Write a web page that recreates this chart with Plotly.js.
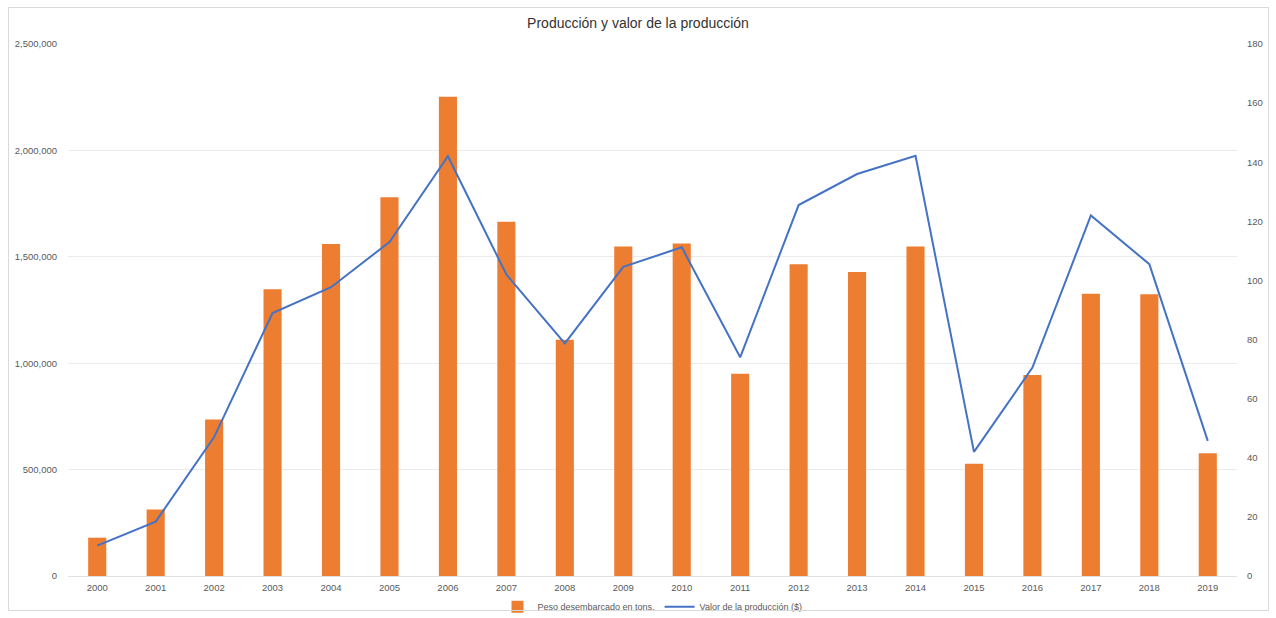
<!DOCTYPE html>
<html>
<head>
<meta charset="utf-8">
<script src="https://cdn.plot.ly/plotly-3.0.1.min.js"></script>
<style>
  html, body { margin: 0; padding: 0; background: #ffffff; }
  #wrap { position: relative; width: 1276px; height: 618px; }
  #chart { width: 1276px; height: 618px; }
  #frame { position: absolute; left: 8px; top: 7px; width: 1261px; height: 604px;
           border: 1px solid #d9d9d9; pointer-events: none; box-sizing: border-box; }
</style>
</head>
<body>
<div id="wrap">
  <div id="chart"></div>
  <div id="frame"></div>
</div>
<script>
const years = ['2000','2001','2002','2003','2004','2005','2006','2007','2008','2009',
               '2010','2011','2012','2013','2014','2015','2016','2017','2018','2019'];
const pesoTons = [180000, 312000, 735000, 1347000, 1560000, 1780000, 2252000, 1665000, 1110000, 1548000,
                  1562000, 950000, 1465000, 1428000, 1548000, 527000, 944000, 1326000, 1324000, 577000];
const valorProduccion = [10.3, 18.4, 47, 89, 97.7, 113, 142, 102, 78.7, 104.6,
                         111.2, 74, 125.5, 136, 142.2, 42, 70.5, 122, 105.5, 45.7];
const leftTicks = [0, 500000, 1000000, 1500000, 2000000, 2500000];
const rightTicks = [0, 20, 40, 60, 80, 100, 120, 140, 160, 180];

const font = 'Liberation Sans, Arial, sans-serif';
const tickFont = { family: font, size: 9.5, color: '#595959' };

const traces = [
  {
    type: 'bar', x: years, y: pesoTons, name: 'Peso desembarcado en tons.',
    marker: { color: '#ED7D31' }, yaxis: 'y'
  },
  {
    type: 'scatter', mode: 'lines', x: years, y: valorProduccion, name: 'Valor de la producción ($)',
    line: { color: '#4472C4', width: 2 }, yaxis: 'y2'
  }
];

const layout = {
  width: 1276, height: 618,
  margin: { l: 68, r: 39, t: 44, b: 42, autoexpand: false },
  paper_bgcolor: '#ffffff', plot_bgcolor: '#ffffff',
  font: { family: font, color: '#595959' },
  title: { text: 'Producción y valor de la producción', x: 0.5, xanchor: 'center', y: 0.962, yanchor: 'middle',
           font: { family: font, size: 14, color: '#333333' } },
  bargap: 0.69,
  showlegend: true,
  legend: { orientation: 'h', x: 0.5, xanchor: 'center', y: -0.058, yanchor: 'middle',
            font: { family: font, size: 9, color: '#595959' }, itemwidth: 30, traceorder: 'normal',
            tracegroupgap: 0 },
  xaxis: { type: 'category', tickfont: tickFont, showgrid: false, showline: false, zeroline: false,
           ticks: '', ticklen: 0, tickangle: 0, ticklabelstandoff: 4 },
  yaxis: { range: [0, 2500000], tickvals: leftTicks, tickformat: ',', tickfont: tickFont,
           showgrid: true, gridcolor: '#ebebeb', gridwidth: 1, zeroline: true, zerolinecolor: '#e0e0e0',
           showline: false, ticks: '', ticklabelstandoff: 10 },
  yaxis2: { range: [0, 180], tickvals: rightTicks, overlaying: 'y', side: 'right', tickfont: tickFont,
            showgrid: false, zeroline: false, showline: false, ticks: '', ticklabelstandoff: 9 }
};

Plotly.newPlot('chart', traces, layout, { displayModeBar: false, staticPlot: true });
</script>
</body>
</html>
